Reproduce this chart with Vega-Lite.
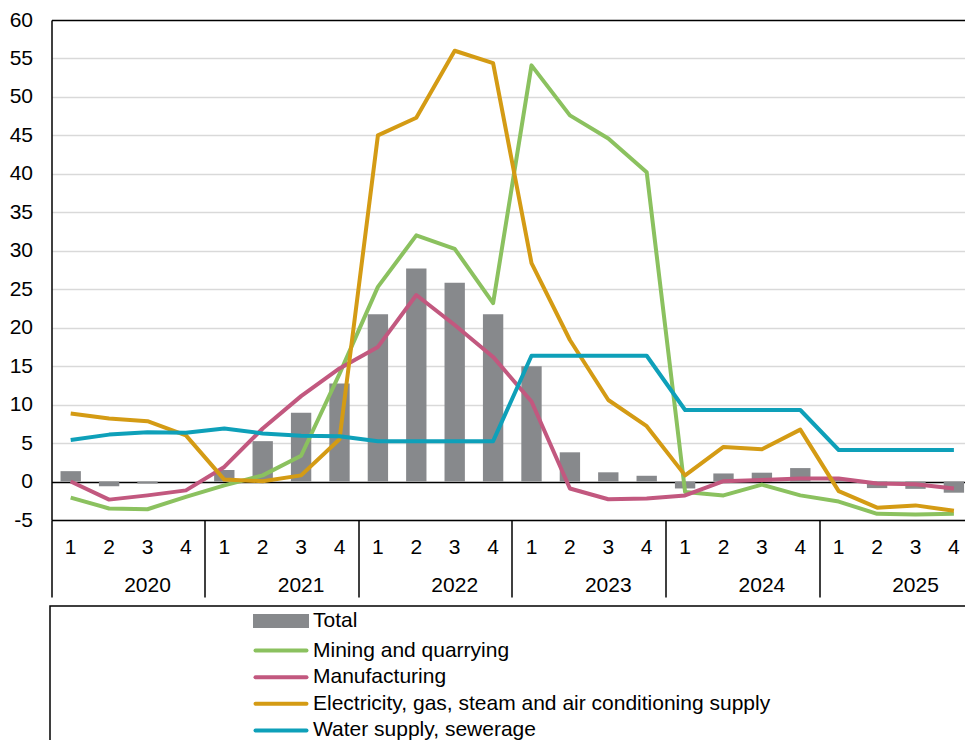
{
  "$schema": "https://vega.github.io/schema/vega-lite/v6.json",
  "width": 913.5,
  "height": 500,
  "autosize": {"type": "none"},
  "padding": {"left": 51.5, "top": 20, "right": 0, "bottom": 220},
  "config": {
    "font": "Liberation Sans",
    "view": {"stroke": null}
  },
  "datasets": {
    "total": [
      {"t": "2020-1", "s": "Total", "v": 1.35},
      {"t": "2020-2", "s": "Total", "v": -0.6},
      {"t": "2020-3", "s": "Total", "v": -0.25},
      {"t": "2020-4", "s": "Total", "v": 0},
      {"t": "2021-1", "s": "Total", "v": 1.5},
      {"t": "2021-2", "s": "Total", "v": 5.25},
      {"t": "2021-3", "s": "Total", "v": 8.95},
      {"t": "2021-4", "s": "Total", "v": 12.75},
      {"t": "2022-1", "s": "Total", "v": 21.75},
      {"t": "2022-2", "s": "Total", "v": 27.7},
      {"t": "2022-3", "s": "Total", "v": 25.85},
      {"t": "2022-4", "s": "Total", "v": 21.75},
      {"t": "2023-1", "s": "Total", "v": 15.0},
      {"t": "2023-2", "s": "Total", "v": 3.8},
      {"t": "2023-3", "s": "Total", "v": 1.2},
      {"t": "2023-4", "s": "Total", "v": 0.75},
      {"t": "2024-1", "s": "Total", "v": -0.9},
      {"t": "2024-2", "s": "Total", "v": 1.05},
      {"t": "2024-3", "s": "Total", "v": 1.15},
      {"t": "2024-4", "s": "Total", "v": 1.75},
      {"t": "2025-1", "s": "Total", "v": 0.3},
      {"t": "2025-2", "s": "Total", "v": -0.85},
      {"t": "2025-3", "s": "Total", "v": -0.95},
      {"t": "2025-4", "s": "Total", "v": -1.45}
    ],
    "lines": [
      {"t": "2020-1", "s": "Mining and quarrying", "v": -2.1},
      {"t": "2020-2", "s": "Mining and quarrying", "v": -3.5},
      {"t": "2020-3", "s": "Mining and quarrying", "v": -3.6},
      {"t": "2020-4", "s": "Mining and quarrying", "v": -2.0},
      {"t": "2021-1", "s": "Mining and quarrying", "v": -0.5},
      {"t": "2021-2", "s": "Mining and quarrying", "v": 0.8},
      {"t": "2021-3", "s": "Mining and quarrying", "v": 3.35},
      {"t": "2021-4", "s": "Mining and quarrying", "v": 14.0},
      {"t": "2022-1", "s": "Mining and quarrying", "v": 25.3},
      {"t": "2022-2", "s": "Mining and quarrying", "v": 32.0},
      {"t": "2022-3", "s": "Mining and quarrying", "v": 30.25},
      {"t": "2022-4", "s": "Mining and quarrying", "v": 23.2},
      {"t": "2023-1", "s": "Mining and quarrying", "v": 54.1},
      {"t": "2023-2", "s": "Mining and quarrying", "v": 47.6},
      {"t": "2023-3", "s": "Mining and quarrying", "v": 44.6},
      {"t": "2023-4", "s": "Mining and quarrying", "v": 40.2},
      {"t": "2024-1", "s": "Mining and quarrying", "v": -1.35},
      {"t": "2024-2", "s": "Mining and quarrying", "v": -1.8},
      {"t": "2024-3", "s": "Mining and quarrying", "v": -0.4},
      {"t": "2024-4", "s": "Mining and quarrying", "v": -1.8},
      {"t": "2025-1", "s": "Mining and quarrying", "v": -2.6},
      {"t": "2025-2", "s": "Mining and quarrying", "v": -4.2},
      {"t": "2025-3", "s": "Mining and quarrying", "v": -4.3},
      {"t": "2025-4", "s": "Mining and quarrying", "v": -4.2},
      {"t": "2020-1", "s": "Manufacturing", "v": 0},
      {"t": "2020-2", "s": "Manufacturing", "v": -2.35},
      {"t": "2020-3", "s": "Manufacturing", "v": -1.8},
      {"t": "2020-4", "s": "Manufacturing", "v": -1.15},
      {"t": "2021-1", "s": "Manufacturing", "v": 1.9},
      {"t": "2021-2", "s": "Manufacturing", "v": 6.9},
      {"t": "2021-3", "s": "Manufacturing", "v": 11.1},
      {"t": "2021-4", "s": "Manufacturing", "v": 14.7},
      {"t": "2022-1", "s": "Manufacturing", "v": 17.5},
      {"t": "2022-2", "s": "Manufacturing", "v": 24.25},
      {"t": "2022-3", "s": "Manufacturing", "v": 20.35},
      {"t": "2022-4", "s": "Manufacturing", "v": 16.2},
      {"t": "2023-1", "s": "Manufacturing", "v": 10.4},
      {"t": "2023-2", "s": "Manufacturing", "v": -0.9},
      {"t": "2023-3", "s": "Manufacturing", "v": -2.3},
      {"t": "2023-4", "s": "Manufacturing", "v": -2.2},
      {"t": "2024-1", "s": "Manufacturing", "v": -1.8},
      {"t": "2024-2", "s": "Manufacturing", "v": 0.05},
      {"t": "2024-3", "s": "Manufacturing", "v": 0.2},
      {"t": "2024-4", "s": "Manufacturing", "v": 0.4},
      {"t": "2025-1", "s": "Manufacturing", "v": 0.4},
      {"t": "2025-2", "s": "Manufacturing", "v": -0.25},
      {"t": "2025-3", "s": "Manufacturing", "v": -0.35},
      {"t": "2025-4", "s": "Manufacturing", "v": -0.9},
      {"t": "2020-1", "s": "Electricity, gas, steam and air conditioning supply", "v": 8.85},
      {"t": "2020-2", "s": "Electricity, gas, steam and air conditioning supply", "v": 8.2},
      {"t": "2020-3", "s": "Electricity, gas, steam and air conditioning supply", "v": 7.85},
      {"t": "2020-4", "s": "Electricity, gas, steam and air conditioning supply", "v": 6.0},
      {"t": "2021-1", "s": "Electricity, gas, steam and air conditioning supply", "v": 0.25},
      {"t": "2021-2", "s": "Electricity, gas, steam and air conditioning supply", "v": 0.05},
      {"t": "2021-3", "s": "Electricity, gas, steam and air conditioning supply", "v": 0.8},
      {"t": "2021-4", "s": "Electricity, gas, steam and air conditioning supply", "v": 5.5},
      {"t": "2022-1", "s": "Electricity, gas, steam and air conditioning supply", "v": 45.0},
      {"t": "2022-2", "s": "Electricity, gas, steam and air conditioning supply", "v": 47.3},
      {"t": "2022-3", "s": "Electricity, gas, steam and air conditioning supply", "v": 56.0},
      {"t": "2022-4", "s": "Electricity, gas, steam and air conditioning supply", "v": 54.4},
      {"t": "2023-1", "s": "Electricity, gas, steam and air conditioning supply", "v": 28.4},
      {"t": "2023-2", "s": "Electricity, gas, steam and air conditioning supply", "v": 18.4},
      {"t": "2023-3", "s": "Electricity, gas, steam and air conditioning supply", "v": 10.6},
      {"t": "2023-4", "s": "Electricity, gas, steam and air conditioning supply", "v": 7.2},
      {"t": "2024-1", "s": "Electricity, gas, steam and air conditioning supply", "v": 0.8},
      {"t": "2024-2", "s": "Electricity, gas, steam and air conditioning supply", "v": 4.5},
      {"t": "2024-3", "s": "Electricity, gas, steam and air conditioning supply", "v": 4.2},
      {"t": "2024-4", "s": "Electricity, gas, steam and air conditioning supply", "v": 6.75},
      {"t": "2025-1", "s": "Electricity, gas, steam and air conditioning supply", "v": -1.25},
      {"t": "2025-2", "s": "Electricity, gas, steam and air conditioning supply", "v": -3.4},
      {"t": "2025-3", "s": "Electricity, gas, steam and air conditioning supply", "v": -3.1},
      {"t": "2025-4", "s": "Electricity, gas, steam and air conditioning supply", "v": -3.8},
      {"t": "2020-1", "s": "Water supply, sewerage", "v": 5.4},
      {"t": "2020-2", "s": "Water supply, sewerage", "v": 6.1},
      {"t": "2020-3", "s": "Water supply, sewerage", "v": 6.4},
      {"t": "2020-4", "s": "Water supply, sewerage", "v": 6.35},
      {"t": "2021-1", "s": "Water supply, sewerage", "v": 6.9},
      {"t": "2021-2", "s": "Water supply, sewerage", "v": 6.25},
      {"t": "2021-3", "s": "Water supply, sewerage", "v": 5.95},
      {"t": "2021-4", "s": "Water supply, sewerage", "v": 5.9},
      {"t": "2022-1", "s": "Water supply, sewerage", "v": 5.25},
      {"t": "2022-2", "s": "Water supply, sewerage", "v": 5.25},
      {"t": "2022-3", "s": "Water supply, sewerage", "v": 5.25},
      {"t": "2022-4", "s": "Water supply, sewerage", "v": 5.25},
      {"t": "2023-1", "s": "Water supply, sewerage", "v": 16.35},
      {"t": "2023-2", "s": "Water supply, sewerage", "v": 16.35},
      {"t": "2023-3", "s": "Water supply, sewerage", "v": 16.35},
      {"t": "2023-4", "s": "Water supply, sewerage", "v": 16.35},
      {"t": "2024-1", "s": "Water supply, sewerage", "v": 9.3},
      {"t": "2024-2", "s": "Water supply, sewerage", "v": 9.3},
      {"t": "2024-3", "s": "Water supply, sewerage", "v": 9.3},
      {"t": "2024-4", "s": "Water supply, sewerage", "v": 9.3},
      {"t": "2025-1", "s": "Water supply, sewerage", "v": 4.1},
      {"t": "2025-2", "s": "Water supply, sewerage", "v": 4.1},
      {"t": "2025-3", "s": "Water supply, sewerage", "v": 4.1},
      {"t": "2025-4", "s": "Water supply, sewerage", "v": 4.1}
    ]
  },
  "layer": [
    {
      "data": {"name": "total"},
      "mark": {"type": "bar", "width": {"band": 0.53}},
      "encoding": {
        "x": {
          "field": "t", "type": "ordinal",
          "scale": {"type": "band", "range": [0, 921.6], "paddingInner": 0, "paddingOuter": 0},
          "axis": {
            "title": null, "orient": "bottom", "labelAngle": 0,
            "labelExpr": "substring(datum.value, 5)",
            "labelFontSize": 21, "labelColor": "black", "labelPadding": 16.5,
            "ticks": false, "grid": false,
            "domain": true, "domainColor": "black", "domainWidth": 1.5
          }
        },
        "y": {
          "field": "v", "type": "quantitative",
          "scale": {"domain": [-5, 60], "nice": false, "zero": false},
          "axis": {
            "title": null,
            "values": [-5, 0, 5, 10, 15, 20, 25, 30, 35, 40, 45, 50, 55, 60],
            "labelExpr": "'' + datum.value",
            "labelOverlap": false,
            "labelFontSize": 21, "labelColor": "black", "labelPadding": 19,
            "ticks": false,
            "domain": true, "domainColor": "black", "domainWidth": 1.5,
            "grid": true,
            "gridColor": {"condition": {"test": "datum.value === 0 || datum.value === 60", "value": "black"}, "value": "#d9d9d9"},
            "gridWidth": 1.5
          }
        },
        "color": {
          "field": "s", "type": "nominal",
          "scale": {
            "domain": ["Total", "Mining and quarrying", "Manufacturing", "Electricity, gas, steam and air conditioning supply", "Water supply, sewerage"],
            "range": ["#87898c", "#8bc15f", "#c2587f", "#d49b14", "#0ea0b9"]
          },
          "legend": {
            "orient": "none", "legendX": -1.5, "legendY": 586, "direction": "vertical",
            "title": " ", "titleOrient": "right", "titlePadding": 240,
            "strokeColor": "black", "padding": 3,
            "symbolOffset": 216, "labelOffset": 20, "symbolSize": 400, "symbolStrokeWidth": 4,
            "labelFontSize": 21, "labelColor": "black", "labelLimit": 700, "rowPadding": 4.6,
            "encode": {
              "legend": {"update": {"strokeWidth": {"value": 1.5}}},
              "symbols": {
                "update": {
                  "shape": {"signal": "datum.value === 'Total' ? 'M-2.6,-0.5H2.6V0.5H-2.6Z' : 'M-2.55,0H2.55'"},
                  "fill": {"signal": "datum.value === 'Total' ? '#87898c' : 'transparent'"},
                  "stroke": {"signal": "datum.value === 'Total' ? 'transparent' : scale('color', datum.value)"},
                  "strokeWidth": {"value": 4},
                  "strokeCap": {"value": "round"},
                  "opacity": {"value": 1}
                }
              }
            }
          }
        }
      }
    },
    {
      "data": {"name": "lines"},
      "mark": {"type": "line", "strokeWidth": 4, "strokeJoin": "round"},
      "encoding": {
        "x": {
          "field": "t", "type": "ordinal",
          "scale": {"type": "band", "range": [0, 921.6], "paddingInner": 0, "paddingOuter": 0},
          "axis": {
            "title": null, "orient": "bottom", "labelAngle": 0, "bandPosition": 0,
            "labelExpr": "substring(datum.value, 5) === '3' ? substring(datum.value, 0, 4) : ''",
            "labelFontSize": 21, "labelColor": "black", "labelPadding": -23,
            "ticks": true, "tickSize": 77, "tickWidth": 1.5,
            "tickColor": {"condition": {"test": "substring(datum.value, 5) === '1'", "value": "black"}, "value": "transparent"},
            "grid": false, "domain": false
          }
        },
        "y": {
          "field": "v", "type": "quantitative",
          "axis": {
            "title": null,
            "values": [-5, 0, 5, 10, 15, 20, 25, 30, 35, 40, 45, 50, 55, 60],
            "labelExpr": "'' + datum.value",
            "labelOverlap": false,
            "labelFontSize": 21, "labelColor": "black", "labelPadding": 19,
            "ticks": false,
            "domain": true, "domainColor": "black", "domainWidth": 1.5,
            "grid": true,
            "gridColor": {"condition": {"test": "datum.value === 0 || datum.value === 60", "value": "black"}, "value": "#d9d9d9"},
            "gridWidth": 1.5
          }
        },
        "color": {"field": "s", "type": "nominal"}
      }
    }
  ],
  "resolve": {"axis": {"x": "independent"}}
}
